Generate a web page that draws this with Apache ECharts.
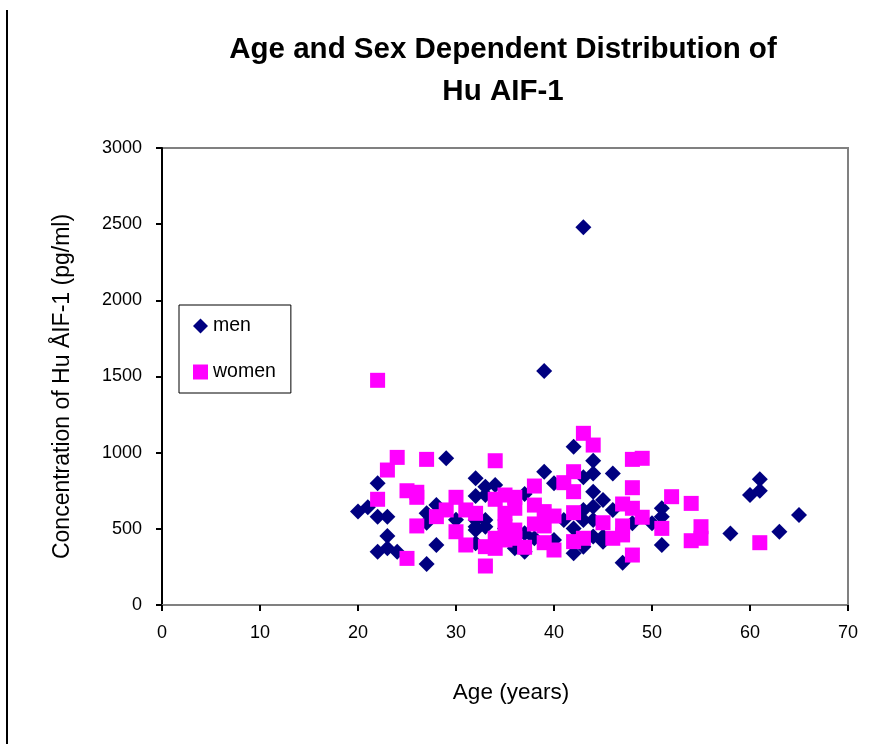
<!DOCTYPE html>
<html>
<head>
<meta charset="utf-8">
<script src="https://cdn.jsdelivr.net/npm/echarts@6/dist/echarts.min.js"></script>
<style>html,body{margin:0;padding:0;background:#fff}#c{width:887px;height:744px}</style>
</head>
<body>
<div id="c"></div>
<script>
var titleText = "Age and Sex Dependent Distribution of\nHu AIF-1";
var xAxisName = "Age (years)";
var yAxisName = "Concentration of Hu ÅIF-1 (pg/ml)";
var seriesNames = ["men", "women"];

var men = [
  [20,613],[21,641],[22,799],[22,580],[23,580],[23,453],[22,350],[23,372],[24,350],
  [27,269],[28,394],[27,602],[27,540],[28,656],[29,963],[32,832],[32,716],[30,560],[32,514],
  [42,1039],[44,947],[39,875],[40,799],[43,838],[44,864],[34,788],[33,777],[33,722],
  [37,729],[44,744],[45,689],[32,558],[33,558],[33,514],[32,492],[41,558],[43,624],
  [44,645],[43,558],[44,558],[42,503],[35,503],[37,471],[32,405],[36,372],[38,438],
  [44,449],[45,416],[42,339],[43,383],[40,427],[37,350],
  [39,1536],[43,2480],
  [46,864],[46,624],[51,635],[51,580],[48,536],[50,536],[51,394],[45,449],[47,278],
  [61,825],[61,750],[60,722],[58,470],[63,481],[65,591]
];

var women = [
  [22,1475],[24,969],[23,886],[27,956],[22,694],[25,750],[26,707],[26,740],[26,519],
  [25,306],[28,580],[30,707],[29,624],[30,481],[31,624],[31,394],
  [43,1127],[44,1050],[34,947],[42,875],[38,781],[41,803],[42,744],[34,694],[35,722],
  [36,707],[32,602],[35,602],[36,635],[38,656],[39,613],[40,584],[42,606],[38,532],
  [39,519],[35,514],[36,492],[45,540],[34,438],[33,383],[34,372],[35,427],[36,438],
  [37,379],[39,409],[40,361],[42,416],[43,438],[33,256],[46,438],
  [48,956],[49,963],[48,770],[52,711],[54,667],[47,663],[48,635],[49,576],[47,519],
  [47,460],[51,503],[55,514],[55,438],[54,422],[48,328],[61,409]
];

var xMin = 0, xMax = 70, xStep = 10;
var yMin = 0, yMax = 3000, yStep = 500;

var chart = echarts.init(document.getElementById('c'), null, {renderer: 'canvas'});
var font = "Liberation Sans, Arial, sans-serif";
chart.setOption({
  backgroundColor: '#ffffff',
  animation: false,
  title: {
    text: titleText,
    left: 498, textAlign: 'center', top: 24,
    textStyle: {fontFamily: font, fontSize: 29.5, fontWeight: 'bold', color: '#000', lineHeight: 42}
  },
  legend: {
    orient: 'vertical',
    left: 179, top: 305,
    padding: [11, 15, 11, 14],
    itemGap: 26,
    itemWidth: 15, itemHeight: 15,
    borderColor: '#000', borderWidth: 1,
    backgroundColor: '#fff',
    textStyle: {fontFamily: font, fontSize: 19.5, color: '#000', lineHeight: 20},
    data: [
      {name: seriesNames[0], icon: 'diamond'},
      {name: seriesNames[1], icon: 'rect'}
    ]
  },
  grid: {
    left: 162, right: 39, top: 148, bottom: 139,
    show: true, borderColor: '#808080', borderWidth: 2, backgroundColor: '#fff'
  },
  xAxis: {
    type: 'value', min: xMin, max: xMax, interval: xStep,
    name: xAxisName, nameLocation: 'middle', nameGap: 76,
    nameTextStyle: {fontFamily: font, fontSize: 22.5, color: '#000', padding: [0, 0, 0, 12]},
    axisLine: {lineStyle: {color: '#808080', width: 2}},
    axisTick: {show: true, length: 6, lineStyle: {color: '#000', width: 2}},
    axisLabel: {fontFamily: font, fontSize: 18, color: '#000', margin: 19},
    splitLine: {show: false}
  },
  yAxis: {
    type: 'value', min: yMin, max: yMax, interval: yStep,
    name: yAxisName, nameLocation: 'middle', nameGap: 88,
    nameTextStyle: {fontFamily: font, fontSize: 23, color: '#000', padding: [0, 20, 0, 0]},
    axisLine: {show: true, lineStyle: {color: '#000', width: 2}},
    axisTick: {show: true, length: 6, lineStyle: {color: '#000', width: 2}},
    axisLabel: {fontFamily: font, fontSize: 18, color: '#000', margin: 20,
      formatter: function (v) { return String(v); }},
    splitLine: {show: false}
  },
  graphic: [{
    type: 'line', shape: {x1: 7, y1: 10, x2: 7, y2: 744},
    style: {stroke: '#000', lineWidth: 2}, silent: true
  }],
  series: [
    {
      name: seriesNames[0], type: 'scatter', data: men,
      symbol: 'diamond', symbolSize: [16, 16],
      itemStyle: {color: '#000080', opacity: 1}
    },
    {
      name: seriesNames[1], type: 'scatter', data: women,
      symbol: 'rect', symbolSize: 15,
      itemStyle: {color: '#ff00ff', opacity: 1}
    }
  ]
});
</script>
</body>
</html>
